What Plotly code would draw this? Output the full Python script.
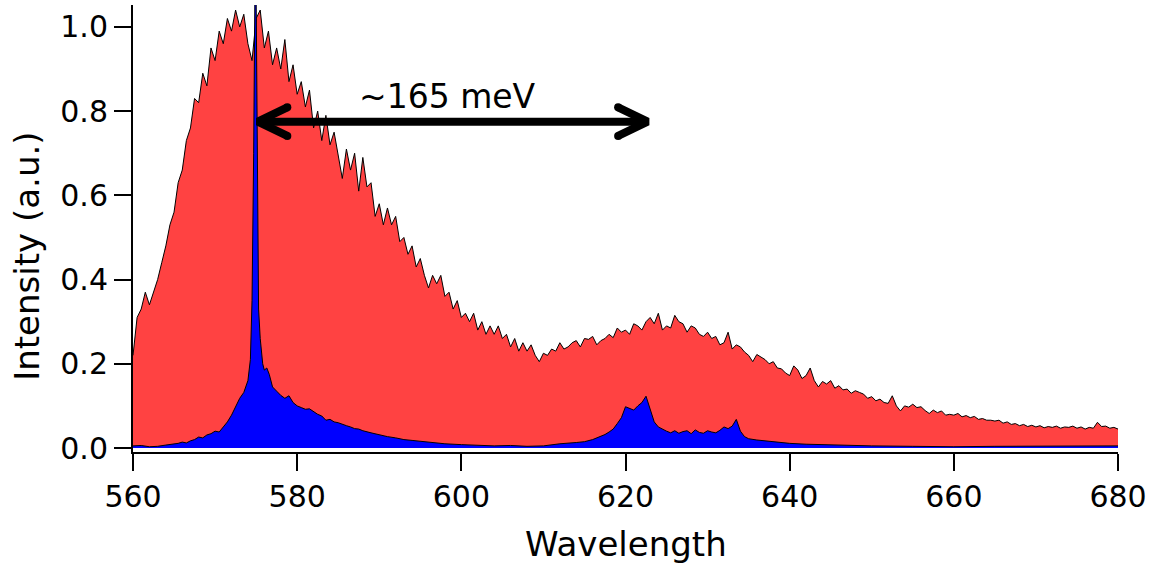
import plotly.graph_objects as go

# ---------------- data ----------------
WL_START = 560.0
WL_STEP = 0.5
RED = [
    0.22, 0.31, 0.33, 0.37, 0.34, 0.37, 0.40, 0.44, 0.48, 0.53,      # 560-564.5
    0.56, 0.63, 0.66, 0.73, 0.76, 0.83, 0.82, 0.89, 0.86, 0.95,      # 565-569.5
    0.92, 0.99, 0.96, 1.02, 0.99, 1.04, 1.00, 1.03, 0.96, 0.92,      # 570-574.5
    1.02, 1.04, 0.95, 0.99, 0.91, 0.95, 0.90, 0.97, 0.87, 0.91,      # 575-579.5
    0.84, 0.87, 0.81, 0.85, 0.76, 0.80, 0.73, 0.79, 0.72, 0.75,      # 580-584.5
    0.69, 0.64, 0.71, 0.66, 0.70, 0.61, 0.69, 0.62, 0.63, 0.55,      # 585-589.5
    0.58, 0.53, 0.57, 0.53, 0.55, 0.49, 0.50, 0.46, 0.48, 0.43,      # 590-594.5
    0.45, 0.41, 0.38, 0.41, 0.39, 0.41, 0.36, 0.37, 0.33, 0.35,      # 595-599.5
    0.31, 0.32, 0.30, 0.32, 0.28, 0.30, 0.27, 0.29, 0.27, 0.29,      # 600-604.5
    0.26, 0.27, 0.24, 0.26, 0.23, 0.25, 0.23, 0.245, 0.22, 0.205,    # 605-609.5
    0.225, 0.22, 0.235, 0.23, 0.25, 0.235, 0.24, 0.25, 0.255, 0.24,       # 610-614.5
    0.26, 0.258, 0.265, 0.245, 0.255, 0.26, 0.27, 0.262, 0.285, 0.275,    # 615-619.5
    0.28, 0.27, 0.295, 0.29, 0.28, 0.30, 0.31, 0.295, 0.32, 0.28,         # 620-624.5
    0.29, 0.285, 0.315, 0.30, 0.295, 0.275, 0.29, 0.285, 0.27, 0.265,     # 625-629.5
    0.275, 0.26, 0.265, 0.245, 0.25, 0.275, 0.235, 0.245, 0.24, 0.228,    # 630-634.5
    0.22, 0.205, 0.222, 0.215, 0.21, 0.20, 0.205, 0.19, 0.188, 0.178,     # 635-639.5
    0.172, 0.195, 0.185, 0.165, 0.172, 0.19, 0.16, 0.145, 0.158, 0.152,   # 640-644.5
    0.16, 0.142, 0.148, 0.138, 0.14, 0.13, 0.136, 0.132, 0.128, 0.118,    # 645-649.5
    0.122, 0.112, 0.116, 0.108, 0.106, 0.124, 0.10, 0.088, 0.10, 0.097,   # 650-654.5
    0.104, 0.096, 0.098, 0.089, 0.082, 0.09, 0.084, 0.088, 0.078, 0.08,   # 655-659.5
    0.078, 0.082, 0.074, 0.077, 0.072, 0.075, 0.068, 0.07, 0.066, 0.066,  # 660-664.5
    0.064, 0.066, 0.059, 0.062, 0.056, 0.058, 0.053, 0.056, 0.051, 0.054, # 665-669.5
    0.05, 0.053, 0.048, 0.051, 0.049, 0.052, 0.047, 0.05, 0.049, 0.052,   # 670-674.5
    0.047, 0.05, 0.045, 0.049, 0.047, 0.061, 0.051, 0.052, 0.047, 0.049,  # 675-679.5
    0.045,                                                                # 680
]
RED_WL = [round(WL_START + i * WL_STEP, 2) for i in range(len(RED))]

BLUE_WL = [
    560, 561, 562, 563, 564, 565, 565.5, 566, 566.5, 567, 567.5, 568, 568.5,
    569, 569.5, 570, 570.5, 571, 571.5, 572, 572.5, 573, 573.5, 574, 574.3,
    574.5, 574.7, 574.85, 575.0, 575.15, 575.3, 575.5, 575.8, 576.0, 576.3,
    576.6, 577.0, 577.5, 578, 578.5, 579, 579.5, 580, 580.5, 581, 581.5, 582,
    582.5, 583, 583.5, 584, 584.5, 585, 585.5, 586, 586.5, 587, 587.5, 588,
    589, 590, 591, 592, 593, 594, 595, 596, 597, 598, 600, 602, 604, 606, 608,
    610, 612, 614, 615, 616, 617, 617.5, 618, 618.5, 619, 619.5, 620, 620.5,
    621, 621.5, 622, 622.5, 623, 623.5, 624, 624.5, 625, 625.5, 626, 626.5,
    627, 627.5, 628, 628.5, 629, 629.5, 630, 630.5, 631, 631.5, 632, 632.5,
    633, 633.5, 634, 634.5, 635, 636, 637, 638, 640, 642, 645, 648, 650, 655,
    660, 665, 670, 675, 680,
]
BLUE = [
    0.005, 0.006, 0.003, 0.004, 0.007, 0.009, 0.011, 0.014, 0.012, 0.017,
    0.020, 0.026, 0.024, 0.031, 0.034, 0.040, 0.038, 0.050, 0.062, 0.078,
    0.100, 0.118, 0.132, 0.160, 0.21, 0.35, 0.70, 1.08, 1.08, 0.55,
    0.33, 0.26, 0.20, 0.185, 0.19, 0.175, 0.145, 0.135, 0.125, 0.118,
    0.124, 0.108, 0.100, 0.096, 0.092, 0.093, 0.086, 0.080, 0.076, 0.066,
    0.068, 0.062, 0.060, 0.056, 0.053, 0.050, 0.046, 0.045, 0.041, 0.036,
    0.031, 0.027, 0.024, 0.020, 0.018, 0.016, 0.013, 0.012, 0.010, 0.008,
    0.006, 0.005, 0.006, 0.004, 0.005, 0.010, 0.013, 0.015, 0.020, 0.027,
    0.032, 0.038, 0.045, 0.058, 0.072, 0.098, 0.094, 0.090, 0.100, 0.108,
    0.123, 0.092, 0.062, 0.050, 0.044, 0.040, 0.036, 0.041, 0.035, 0.039,
    0.041, 0.034, 0.043, 0.037, 0.035, 0.041, 0.038, 0.036, 0.042, 0.050,
    0.046, 0.052, 0.068, 0.040, 0.027, 0.022, 0.019, 0.017, 0.014, 0.011,
    0.009, 0.007, 0.005, 0.005, 0.004, 0.003, 0.004, 0.004, 0.005, 0.005,
]

X_TICKS = [560, 580, 600, 620, 640, 660, 680]
Y_TICKS = [0.0, 0.2, 0.4, 0.6, 0.8, 1.0]

# annotation (double arrow) geometry
ARROW_LEFT, ARROW_RIGHT, ARROW_Y = 575.2, 622.7, 0.775
HEAD_DX, HEAD_DY = 3.6, 0.034
LABEL_TEXT = "~165 meV"
LABEL_X, LABEL_Y = 598.3, 0.834

FONT = "DejaVu Sans"

fig = go.Figure()
fig.add_trace(go.Scatter(
    x=RED_WL, y=RED, mode="lines", fill="tozeroy",
    fillcolor="#FF4242", line=dict(color="black", width=1),
    showlegend=False, hoverinfo="skip",
))
fig.add_trace(go.Scatter(
    x=BLUE_WL, y=BLUE, mode="lines", fill="tozeroy",
    fillcolor="#0000FF", line=dict(color="black", width=1),
    showlegend=False, hoverinfo="skip",
))

# double-headed arrow
arrow_x = [ARROW_LEFT, ARROW_RIGHT, None,
           ARROW_LEFT + HEAD_DX, ARROW_LEFT, ARROW_LEFT + HEAD_DX, None,
           ARROW_RIGHT - HEAD_DX, ARROW_RIGHT, ARROW_RIGHT - HEAD_DX]
arrow_y = [ARROW_Y, ARROW_Y, None,
           ARROW_Y + HEAD_DY, ARROW_Y, ARROW_Y - HEAD_DY, None,
           ARROW_Y + HEAD_DY, ARROW_Y, ARROW_Y - HEAD_DY]
fig.add_trace(go.Scatter(
    x=arrow_x, y=arrow_y, mode="lines",
    line=dict(color="black", width=8),
    showlegend=False, hoverinfo="skip",
))
cap_x = [ARROW_LEFT + HEAD_DX, ARROW_LEFT + HEAD_DX, ARROW_RIGHT - HEAD_DX, ARROW_RIGHT - HEAD_DX]
cap_y = [ARROW_Y + HEAD_DY, ARROW_Y - HEAD_DY, ARROW_Y + HEAD_DY, ARROW_Y - HEAD_DY]
fig.add_trace(go.Scatter(
    x=cap_x, y=cap_y, mode="markers",
    marker=dict(color="black", size=8, line=dict(width=0)),
    showlegend=False, hoverinfo="skip",
))

fig.add_annotation(x=LABEL_X, y=LABEL_Y, xref="x", yref="y", text=LABEL_TEXT,
                   showarrow=False, font=dict(family=FONT, size=33, color="black"))
fig.add_annotation(x=0.5, y=-0.205, xref="paper", yref="paper", text="Wavelength",
                   xanchor="center", yanchor="middle",
                   showarrow=False, font=dict(family=FONT, size=34, color="black"))
fig.add_annotation(x=-0.107, y=0.438, xref="paper", yref="paper", text="Intensity (a.u.)",
                   xanchor="center", yanchor="middle",
                   textangle=-90, showarrow=False,
                   font=dict(family=FONT, size=34, color="black"))

axis_common = dict(
    showline=True, linewidth=2, linecolor="black", mirror=False,
    ticks="outside", ticklen=17, tickwidth=2, tickcolor="black",
    showgrid=False, zeroline=False,
    tickfont=dict(family=FONT, size=30, color="black"),
)
fig.update_xaxes(range=[560, 680], tickvals=X_TICKS,
                 ticktext=[str(v) for v in X_TICKS], **axis_common)
fig.update_yaxes(range=[-0.0095, 1.052], tickvals=Y_TICKS,
                 ticktext=[f"{v:.1f}" for v in Y_TICKS], **axis_common)

fig.update_layout(
    width=1156, height=568,
    margin=dict(l=133, r=38, t=5, b=116),
    paper_bgcolor="white", plot_bgcolor="white",
    showlegend=False,
)

fig.write_html("out.html")
